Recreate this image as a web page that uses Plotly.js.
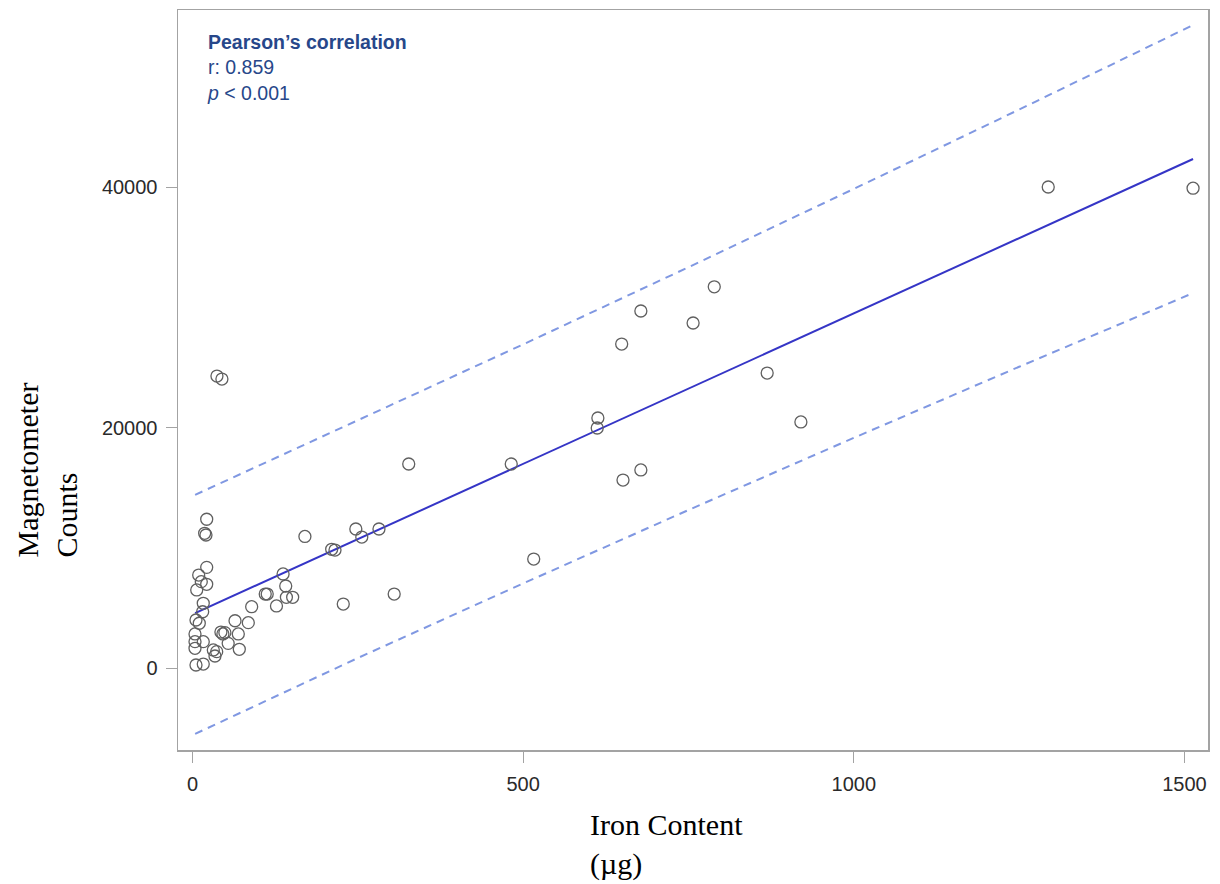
<!DOCTYPE html>
<html>
<head>
<meta charset="utf-8">
<script src="https://cdn.plot.ly/plotly-3.0.1.min.js"></script>
<style>html,body{margin:0;padding:0;background:#fff;}#chart{width:1220px;height:884px;}</style>
</head>
<body>
<div id="chart"></div>
<script>
// Observed data: Iron content (µg) vs magnetometer counts
const ironContent = [1294, 1513, 789, 678, 757, 649, 869, 37, 44.5, 613, 612, 920, 327, 482, 678, 651,
  21.5, 18.4, 20.4, 170, 247, 282, 256, 210.5, 215.5, 516, 21.5, 9.4, 13.3, 21.5, 6.4,
  137, 141, 110, 113, 142, 151.5, 305, 228, 127, 16.3, 15.4, 89.5, 5.3, 10.3, 64.3, 84.4,
  3.8, 3.8, 16.3, 43, 46, 49, 69.3, 3.8, 31.5, 54, 70.8, 36.6, 34, 5.3, 16.3];
const magCounts = [40000, 39900, 31700, 29690, 28690, 26940, 24530, 24280, 24030, 20790, 19960, 20460, 16965, 16965, 16470, 15630,
  12370, 11200, 11060, 10940, 11560, 11560, 10890, 9870, 9810, 9060, 8370, 7730, 7180, 6960, 6490,
  7820, 6820, 6150, 6150, 5880, 5880, 6150, 5320, 5160, 5380, 4680, 5100, 3990, 3720, 3930, 3770,
  2830, 2190, 2190, 2990, 2830, 2940, 2830, 1640, 1500, 2050, 1555, 1360, 1000, 250, 330];

// Regression fit line
const fitX = [4, 1513];
const fitY = [4560, 42330];

// 95% prediction limits
const bandX = [4, 250, 500, 750, 1000, 1250, 1513];
const bandUpper = [14400, 20600, 26910, 33330, 39840, 46440, 53470];
const bandLower = [-5480, 830, 7030, 13140, 19140, 25050, 31180];

// Axis ticks
const xTicks = [0, 500, 1000, 1500];
const yTicks = [0, 20000, 40000];

const traces = [
  {x: bandX, y: bandUpper, type: 'scatter', mode: 'lines', hoverinfo: 'skip',
   line: {color: '#8098e2', width: 2, dash: '8px,6px'}},
  {x: bandX, y: bandLower, type: 'scatter', mode: 'lines', hoverinfo: 'skip',
   line: {color: '#8098e2', width: 2, dash: '8px,6px'}},
  {x: fitX, y: fitY, type: 'scatter', mode: 'lines',
   line: {color: '#3535c6', width: 2}},
  {x: ironContent, y: magCounts, type: 'scatter', mode: 'markers',
   marker: {symbol: 'circle-open', size: 12, color: '#606060', line: {width: 1.3, color: '#606060'}}}
];

const axisCommon = {
  showgrid: false, zeroline: false, showline: true, mirror: true,
  linecolor: '#a3a3a3', linewidth: 1.5,
  ticks: 'outside', ticklen: 11, tickwidth: 1, tickcolor: '#a3a3a3',
  ticklabelstandoff: 4,
  tickfont: {family: 'Liberation Sans, Arial, sans-serif', size: 20, color: '#2a2a2a'}
};

const layout = {
  width: 1220, height: 884,
  margin: {l: 178, r: 12, t: 10, b: 134},
  paper_bgcolor: '#ffffff', plot_bgcolor: '#ffffff',
  showlegend: false,
  xaxis: Object.assign({}, axisCommon, {range: [-21.9, 1535.6], tickvals: xTicks, ticktext: xTicks.map(String)}),
  yaxis: Object.assign({}, axisCommon, {range: [-6819, 54720], tickvals: yTicks, ticktext: yTicks.map(String)}),
  annotations: [
    {xref: 'paper', yref: 'paper', x: 0.026, y: 0.975, xanchor: 'left', yanchor: 'top', align: 'left',
     showarrow: false,
     text: '<b>Pearson’s correlation</b><br>r: 0.859<br><i>p</i> &lt; 0.001',
     font: {family: 'Liberation Sans, Arial, sans-serif', size: 19.5, color: '#27478a'}},
    {xref: 'paper', yref: 'paper', x: 0.398, y: -0.076, xanchor: 'left', yanchor: 'top', align: 'left',
     showarrow: false, text: 'Iron Content<br>(µg)',
     font: {family: 'Liberation Serif, Times New Roman, serif', size: 30, color: '#000'}},
    {xref: 'paper', yref: 'paper', x: -0.127, y: 0.378, xanchor: 'center', yanchor: 'middle', align: 'left',
     textangle: -90, showarrow: false, text: 'Magnetometer<br>Counts',
     font: {family: 'Liberation Serif, Times New Roman, serif', size: 30, color: '#000'}}
  ]
};

Plotly.newPlot('chart', traces, layout, {displayModeBar: false, staticPlot: true});
</script>
</body>
</html>
